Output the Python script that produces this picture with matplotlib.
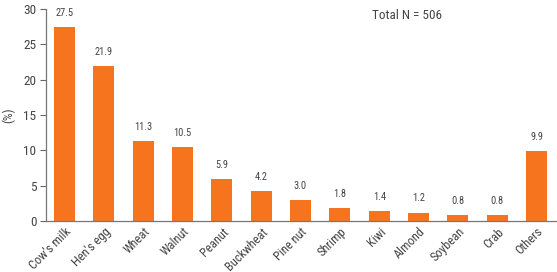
import matplotlib
matplotlib.use("Agg")
from matplotlib import pyplot as plt
from matplotlib import font_manager

# allergen categories and share (%) of 506 cases
foods = ["Cow's milk", "Hen's egg", "Wheat", "Walnut", "Peanut", "Buckwheat",
         "Pine nut", "Shrimp", "Kiwi", "Almond", "Soybean", "Crab", "Others"]
percent = [27.5, 21.9, 11.3, 10.5, 5.9, 4.2, 3.0, 1.8, 1.4, 1.2, 0.8, 0.8, 9.9]
value_labels = ["27.5", "21.9", "11.3", "10.5", "5.9", "4.2", "3.0", "1.8",
                "1.4", "1.2", "0.8", "0.8", "9.9"]
y_ticks = [0, 5, 10, 15, 20, 25, 30]

# condensed face if one is around, else the default
names = {f.name for f in font_manager.fontManager.ttflist}
fam = "DejaVu Sans"
for cand in ["Roboto Condensed", "Liberation Sans Narrow", "Archivo Narrow",
             "PT Sans Narrow", "Open Sans Condensed"]:
    if cand in names:
        fam = cand
        break
plt.rcParams["font.family"] = [fam, "DejaVu Sans"]

text_col = "#444444"
bar_col = "#F7741F"

fig = plt.figure(figsize=(5.57, 2.72), dpi=100)
ax = fig.add_axes([0.0826, 0.1875, 0.916, 0.779])

x = list(range(len(foods)))
ax.bar(x, percent, width=0.54, color=bar_col)
for xi, v, lab in zip(x, percent, value_labels):
    ax.text(xi, v + 1.3, lab, ha="center", va="bottom", fontsize=7.5, color=text_col)

ax.set_xlim(-0.47, 12.5)
ax.set_ylim(0, 30)
ax.set_yticks(y_ticks)
ax.set_xticks(x)
ax.set_xticklabels(foods, rotation=45, ha="right", rotation_mode="anchor",
                   fontsize=9, color=text_col)
ax.tick_params(axis="x", length=0, pad=3)
ax.tick_params(axis="y", length=4, width=0.8, colors="#666666", labelcolor=text_col,
               labelsize=9.5, pad=3)
for s in ["top", "right"]:
    ax.spines[s].set_visible(False)
for s in ["left", "bottom"]:
    ax.spines[s].set_color("#777777")
    ax.spines[s].set_linewidth(0.9)

ax.set_ylabel("(%)", fontsize=9, color=text_col, labelpad=6)
ax.text(0.708, 0.97, "Total N = 506", transform=ax.transAxes, fontsize=9.5,
        color=text_col, ha="center", va="center")

fig.savefig("out.png", dpi=100)
